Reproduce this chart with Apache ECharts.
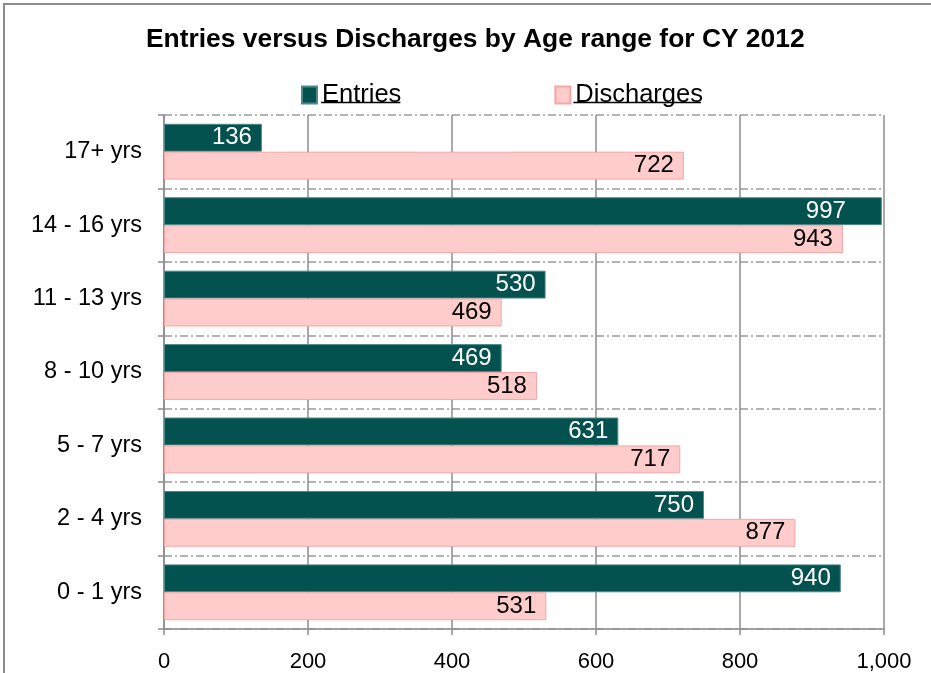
<!DOCTYPE html>
<html>
<head>
<meta charset="utf-8">
<script src="https://cdn.jsdelivr.net/npm/echarts@6/dist/echarts.min.js"></script>
<style>
  html, body { margin: 0; padding: 0; background: #ffffff; }
  #chart { width: 931px; height: 673px; }
</style>
</head>
<body>
<div id="chart"></div>
<script>
// Age ranges, listed bottom to top on the category axis
const ageRanges = ['0 - 1 yrs', '2 - 4 yrs', '5 - 7 yrs', '8 - 10 yrs', '11 - 13 yrs', '14 - 16 yrs', '17+ yrs'];
const entries = [940, 750, 631, 469, 530, 997, 136];
const discharges = [531, 877, 717, 518, 469, 943, 722];
const xTicks = { min: 0, max: 1000, interval: 200 };

const FONT = '"Liberation Sans", Arial, sans-serif';
const LEGEND_FONT_SIZE = 25.5;

const chart = echarts.init(document.getElementById('chart'), null, { renderer: 'canvas' });

function withCommas(v) {
  return String(v).replace(/\B(?=(\d{3})+(?!\d))/g, ',');
}

// width of a legend label, used to size its underline
function textWidth(str) {
  const ctx = document.createElement('canvas').getContext('2d');
  ctx.font = LEGEND_FONT_SIZE + 'px ' + FONT;
  return ctx.measureText(str).width;
}

// bars that reach the axis end keep their label further inside
function withLabelRoom(values) {
  return values.map(function (v) {
    return v >= xTicks.max - 10 ? { value: v, label: { distance: 36 } } : v;
  });
}

const legendLeft = 301;
const iconW = 15;
const legendGap = 153;
const entriesTextX = legendLeft + iconW + 5;
const entriesW = textWidth('Entries');
const dischargesTextX = entriesTextX + entriesW + legendGap + iconW + 5;
const dischargesW = textWidth('Discharges');
const underlineY = 102.5;

chart.setOption({
  animation: false,
  backgroundColor: '#ffffff',
  title: {
    text: 'Entries versus Discharges by Age range for CY 2012',
    left: 146,
    top: 27,
    padding: 0,
    textStyle: { fontFamily: FONT, fontSize: 26.4, fontWeight: 'bold', color: '#000000' }
  },
  legend: {
    left: legendLeft,
    top: 82,
    padding: 0,
    itemWidth: iconW,
    itemHeight: 17,
    itemGap: legendGap,
    icon: 'rect',
    textStyle: { fontFamily: FONT, fontSize: LEGEND_FONT_SIZE, color: '#000000' },
    data: ['Entries', 'Discharges']
  },
  grid: { left: 164, right: 47, top: 115, bottom: 44, containLabel: false },
  xAxis: {
    type: 'value',
    min: xTicks.min,
    max: xTicks.max,
    interval: xTicks.interval,
    axisLine: { show: true, lineStyle: { color: '#8c8c8c', width: 1.5 } },
    axisTick: { show: true, length: 6, lineStyle: { color: '#8c8c8c', width: 1.5 } },
    axisLabel: {
      fontFamily: FONT, fontSize: 22, color: '#000000', margin: 22,
      formatter: withCommas
    },
    splitLine: { show: true, lineStyle: { color: '#8c8c8c', width: 1.5 } }
  },
  yAxis: {
    type: 'category',
    data: ageRanges,
    axisLine: { show: true, lineStyle: { color: '#8c8c8c', width: 1.5 } },
    axisTick: { show: true, length: 6, lineStyle: { color: '#8c8c8c', width: 1.5 } },
    axisLabel: { fontFamily: FONT, fontSize: 23.5, color: '#000000', margin: 22 },
    splitLine: {
      show: true,
      lineStyle: { color: '#9a9a9a', width: 1.5, type: [8, 3, 2, 3] }
    }
  },
  series: [
    {
      name: 'Entries',
      type: 'bar',
      data: withLabelRoom(entries),
      barGap: '0%',
      barCategoryGap: '24%',
      itemStyle: { color: '#04524F', borderColor: '#4f8a88', borderWidth: 1 },
      label: {
        show: true, position: 'insideRight', distance: 10,
        fontFamily: FONT, fontSize: 24, color: '#ffffff'
      }
    },
    {
      name: 'Discharges',
      type: 'bar',
      data: withLabelRoom(discharges),
      barGap: '0%',
      barCategoryGap: '24%',
      itemStyle: { color: '#FFCCCC', borderColor: '#F7A5A5', borderWidth: 1 },
      label: {
        show: true, position: 'insideRight', distance: 10,
        fontFamily: FONT, fontSize: 24, color: '#000000'
      }
    }
  ],
  graphic: [
    {
      type: 'rect',
      shape: { x: 4, y: 4, width: 960, height: 700 },
      style: { fill: null, stroke: '#8c8c8c', lineWidth: 2 },
      silent: true
    },
    {
      type: 'line',
      shape: { x1: entriesTextX, y1: underlineY, x2: entriesTextX + entriesW, y2: underlineY },
      style: { stroke: '#000000', lineWidth: 1.5 },
      silent: true
    },
    {
      type: 'line',
      shape: { x1: dischargesTextX, y1: underlineY, x2: dischargesTextX + dischargesW, y2: underlineY },
      style: { stroke: '#000000', lineWidth: 1.5 },
      silent: true
    }
  ]
});
</script>
</body>
</html>
